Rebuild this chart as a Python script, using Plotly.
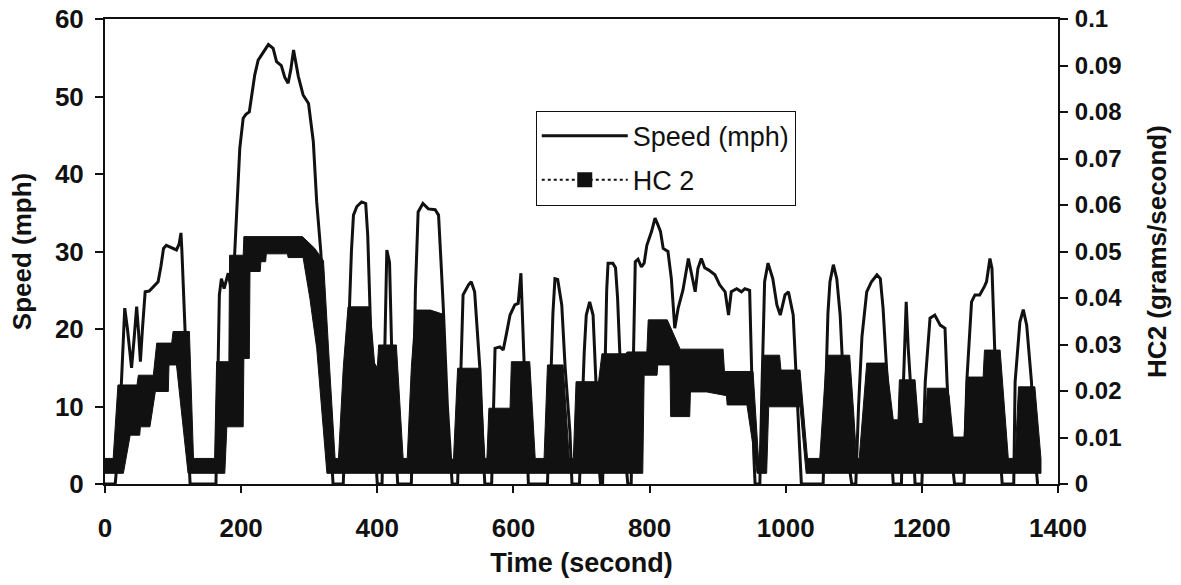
import plotly.graph_objects as go

# ---------------- data ----------------
# Speed trace (time in s, speed in mph)
speed_t = [0, 15, 20, 25, 29, 33, 39, 43, 46.5, 49, 52, 55, 59, 65, 72, 78, 82, 86, 90, 97, 105, 109, 111.6, 113, 117.5, 121, 125,
           163, 165, 168, 171, 175, 181, 186, 189, 191, 195, 198, 203, 207, 212, 220, 225, 233, 240, 247, 252, 259, 264, 269, 273, 277, 280, 284,
           291, 299, 306, 311, 317, 322, 328, 333, 335, 350, 353, 358, 362, 365, 370, 377, 383, 386, 389, 393, 398, 400,
           407, 410, 412, 414, 418, 421, 425, 430, 450, 453, 456, 460, 467, 475, 485, 490, 494, 497, 503, 510,
           518, 521, 526, 534, 538, 543, 547, 551, 555, 558, 568, 571, 573, 580, 585, 590, 595, 602, 607, 611, 613, 615, 619, 622,
           650, 654, 658, 661, 665, 671, 676, 683, 686, 697, 700, 704, 707, 712, 717, 721, 725, 728, 731, 734, 737, 739, 746, 750, 753, 756, 762, 768,
           773, 776, 779, 783, 788, 792, 796, 803, 808, 812, 816, 820, 827, 832, 837, 842, 849, 857, 860, 867, 871, 876, 881, 887, 896, 903, 911, 916,
           920, 928, 935, 940, 947, 950, 953, 955, 962, 965, 969, 974, 981, 987, 992, 999, 1004, 1011, 1015, 1018, 1023,
           1055, 1059, 1062, 1065, 1070, 1075, 1080, 1087, 1092, 1097, 1103, 1107, 1112, 1119, 1126, 1134, 1139, 1143, 1148, 1153, 1158,
           1170, 1173, 1177, 1180, 1184, 1187, 1190, 1200, 1205, 1212, 1219, 1227, 1234, 1237, 1242, 1248,
           1262, 1266, 1270, 1273, 1278, 1285, 1292, 1295, 1300, 1303, 1307, 1312, 1318, 1335, 1337, 1344, 1349, 1354, 1361, 1366, 1370, 1372]
speed_mph = [0, 0, 5, 15, 22.7, 20, 15, 19, 22.9, 20, 15.8, 20, 24.8, 24.9, 25.5, 26.1, 28, 30.4, 30.8, 30.5, 30.2, 31, 32.4, 30, 20.1, 8, 0,
             0, 12, 24.4, 26.5, 25.2, 27.2, 24.8, 27, 30.4, 38, 43.3, 47.2, 47.7, 48, 52.8, 54.7, 55.8, 56.7, 56.2, 54.5, 54.0, 52.5, 51.7, 53.5, 56.0, 54.5, 52.6,
             50.2, 49.1, 44.2, 36.4, 30.0, 22, 12, 4, 0, 0, 8, 20, 30, 34.7, 35.8, 36.4, 36.2, 32, 23.1, 12, 3, 0,
             0, 15, 25, 30.2, 28.6, 17.9, 8, 0, 0, 10, 25, 35.1, 36.2, 35.5, 35.4, 34.7, 28, 22.7, 10, 0,
             0, 10, 24.4, 25.7, 26.1, 24.8, 20, 14.5, 5, 0, 0, 10, 17.5, 17.7, 17.3, 19.5, 21.8, 23.1, 23.3, 27.2, 22, 16.6, 7, 0,
             0, 12, 22, 26.5, 26.4, 23.1, 15, 6.7, 0, 0, 8, 17, 21.8, 23.5, 21.8, 13.6, 3, 0, 0, 15, 25, 28.5, 28.5, 27.9, 24, 17.5, 6, 0,
             0, 15, 28.7, 29.0, 28.0, 28.5, 30.8, 32.6, 34.3, 33.5, 32.6, 30.4, 30.0, 26.5, 20.1, 22.7, 25, 29.1, 27.8, 24.8, 27.8, 29.1, 27.9, 27.6, 27.0, 25.7, 24.8, 21.8,
             24.8, 25.2, 24.8, 25.2, 25.0, 13.2, 4, 0, 0, 12, 26.1, 28.5, 26.5, 23.1, 21.8, 24.4, 24.8, 21.8, 15, 8.9, 0,
             0, 12, 22, 26.1, 28.3, 26.5, 21.8, 8.9, 3, 0, 0, 10, 19, 24.8, 26.1, 27.0, 26.5, 22.7, 15, 8.9, 0,
             0, 13.2, 23.5, 17.5, 12, 6, 0, 0, 13.2, 21.4, 21.8, 20.5, 20.1, 13.2, 5, 0,
             0, 13.2, 20, 23.5, 24.4, 24.4, 25.5, 26.1, 29.1, 27.8, 17.5, 8, 0, 0, 13.2, 20.9, 22.5, 20.5, 13.2, 4, 0, 0]

# HC2 (g/s): the dense per-second markers form a solid band; upper and lower edge of that band
hc_up_t = [0, 12, 19, 47, 49, 71, 76, 98, 100, 124, 130,
           161, 164, 182, 183, 203, 204, 290, 308, 321, 330, 338,
           343, 350, 357, 389, 396, 400, 402, 428, 438,
           444, 450, 456, 478, 497, 507,
           512, 518, 551, 558,
           561, 564, 595, 597, 624, 632,
           645, 650, 673, 682,
           688, 692, 725, 730, 765, 767, 796, 798, 826, 845, 908, 910, 952, 960,
           962, 966, 991, 993, 1021, 1032,
           1050, 1060, 1094, 1100, 1104, 1108, 1115, 1119, 1148, 1158, 1165, 1167, 1190, 1195, 1205, 1208, 1235, 1240, 1246, 1262,
           1266, 1290, 1292, 1315, 1327, 1337, 1342, 1366, 1375]
hc_up = [0.0055, 0.0055, 0.0213, 0.0213, 0.0234, 0.0234, 0.0303, 0.0303, 0.0328, 0.0328, 0.0055,
         0.0055, 0.0263, 0.0263, 0.0492, 0.0492, 0.0532, 0.0532, 0.0507, 0.0480, 0.0250, 0.0055,
         0.0055, 0.0250, 0.0381, 0.0381, 0.0260, 0.0250, 0.0299, 0.0299, 0.0055,
         0.0055, 0.0250, 0.0374, 0.0374, 0.0365, 0.0050,
         0.0055, 0.0249, 0.0249, 0.0055,
         0.0055, 0.0163, 0.0163, 0.0263, 0.0263, 0.0055,
         0.0055, 0.0256, 0.0256, 0.0055,
         0.0055, 0.0220, 0.0220, 0.0280, 0.0280, 0.0284, 0.0284, 0.0353, 0.0353, 0.0290, 0.0290, 0.0242, 0.0242, 0.0055,
         0.0055, 0.0277, 0.0277, 0.0245, 0.0245, 0.0055,
         0.0055, 0.0277, 0.0277, 0.0150, 0.0055, 0.0055, 0.0200, 0.0260, 0.0260, 0.0138, 0.0138, 0.0224, 0.0224, 0.0130, 0.0130, 0.0206, 0.0206, 0.0190, 0.0101, 0.0101,
         0.0230, 0.0230, 0.0288, 0.0288, 0.0055, 0.0055, 0.0209, 0.0209, 0.0055]
hc_lo_t = [0, 27, 37, 51, 52, 66, 74, 93, 94, 105, 122,
           176, 179, 203, 204, 212, 213, 228, 229, 236, 237, 268, 269, 291, 301, 311, 326,
           790, 792, 811, 812, 830, 831, 859, 860, 884, 913, 914, 943, 958,
           972, 975, 1021, 1030, 1375]
hc_lo = [0.0023, 0.0023, 0.0105, 0.0105, 0.0123, 0.0123, 0.0199, 0.0199, 0.0256, 0.0256, 0.0023,
         0.0023, 0.0123, 0.0123, 0.0270, 0.0270, 0.0457, 0.0457, 0.0478, 0.0478, 0.0495, 0.0495, 0.0487, 0.0487, 0.0399, 0.0292, 0.0023,
         0.0023, 0.0234, 0.0234, 0.0256, 0.0256, 0.0145, 0.0145, 0.0198, 0.0198, 0.0190, 0.0170, 0.0170, 0.0023,
         0.0023, 0.0166, 0.0166, 0.0023, 0.0023]

x_ticks = [0, 200, 400, 600, 800, 1000, 1200, 1400]
y1_ticks = [0, 10, 20, 30, 40, 50, 60]
y2_ticks = [0, 0.01, 0.02, 0.03, 0.04, 0.05, 0.06, 0.07, 0.08, 0.09, 0.1]
y2_labels = ["0", "0.01", "0.02", "0.03", "0.04", "0.05", "0.06", "0.07", "0.08", "0.09", "0.1"]

# ---------------- figure ----------------
FONT = "Liberation Sans, Arial, sans-serif"
INK = "#111111"
fig = go.Figure()

# HC2 band: upper edge forward, lower edge back, closed polygon
band_t = hc_up_t + hc_lo_t[::-1]
band_v = hc_up + hc_lo[::-1]
fig.add_trace(go.Scatter(x=band_t, y=band_v, yaxis="y2", mode="lines", fill="toself",
                         fillcolor=INK, line=dict(color=INK, width=1),
                         showlegend=False, hoverinfo="skip"))
fig.add_trace(go.Scatter(x=speed_t, y=speed_mph, mode="lines", name="Speed (mph)",
                         line=dict(color=INK, width=3), legendgroup="a"))
fig.add_trace(go.Scatter(x=[None], y=[None], yaxis="y2", mode="lines+markers", name="HC 2",
                         line=dict(color=INK, width=2, dash="dot"),
                         marker=dict(symbol="square", size=15, color=INK), legendgroup="b"))

axis_common = dict(showline=True, linewidth=2, linecolor=INK, ticks="outside", automargin=False,
                   tickwidth=2, tickcolor=INK, showgrid=False, zeroline=False,
                   ticklabeloverflow="allow")

fig.update_layout(
    width=1181, height=585,
    margin=dict(l=105, r=123, t=19, b=101),
    paper_bgcolor="white", plot_bgcolor="white",
    font=dict(family=FONT, color=INK),
    xaxis=dict(range=[0, 1400], tickvals=x_ticks, ticklen=7, mirror=True,
               tickfont=dict(size=26, weight="bold"), ticklabelstandoff=13,
               title=dict(text="Time (second)", font=dict(size=27, weight="bold"), standoff=11),
               **axis_common),
    yaxis=dict(range=[0, 60], tickvals=y1_ticks, ticklen=8,
               tickfont=dict(size=26, weight="bold"), ticklabelstandoff=6,
               title=dict(text="Speed (mph)", font=dict(size=26, weight="bold"), standoff=16),
               **axis_common),
    yaxis2=dict(range=[0, 0.1], tickvals=y2_ticks, ticktext=y2_labels, ticklen=8,
                overlaying="y", side="right",
                tickfont=dict(size=24, weight="bold"), ticklabelstandoff=2,
                title=dict(text="HC2 (grams/second)", font=dict(size=26, weight="bold"), standoff=27),
                **axis_common),
    legend=dict(x=0.452, y=0.803, xanchor="left", yanchor="top",
                font=dict(size=27), bgcolor="white", bordercolor=INK, borderwidth=1,
                itemwidth=86, tracegroupgap=6),
    showlegend=True,
)

# remove the page's default body margin so the figure starts at the window corner
fig.write_html("out.html", config={"displayModeBar": False},
               post_script="document.body.style.margin='0';")
